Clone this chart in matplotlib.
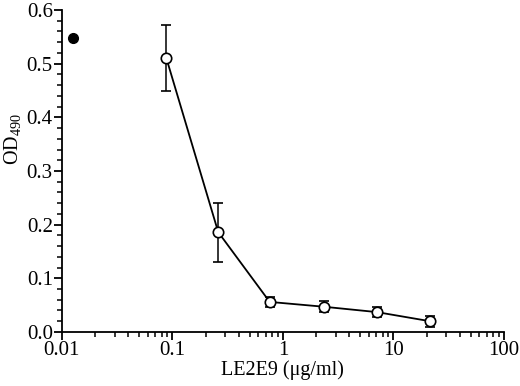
import matplotlib
matplotlib.use("Agg")
import matplotlib.pyplot as plt
from matplotlib.ticker import LogLocator, MultipleLocator, NullFormatter, FixedFormatter, FixedLocator

plt.rcParams['font.family'] = ['Liberation Serif', 'DejaVu Serif']
plt.rcParams['mathtext.fontset'] = 'custom'
plt.rcParams['mathtext.rm'] = 'Liberation Serif'

# open circles: LE2E9 titration
conc = [0.088, 0.26, 0.76, 2.35, 7.1, 21.5]
od = [0.511, 0.186, 0.056, 0.047, 0.037, 0.020]
od_err = [0.062, 0.055, 0.010, 0.010, 0.010, 0.010]

# filled circle: control
ctrl_x = [0.0126]
ctrl_y = [0.548]

xticks = [0.01, 0.1, 1, 10, 100]
xlabels = ['0.01', '0.1', '1', '10', '100']

fig = plt.figure(figsize=(5.2, 3.86), dpi=100)
ax = fig.add_axes([0.119, 0.140, 0.850, 0.834])

ax.errorbar(conc, od, yerr=od_err, color='black', lw=1.3, elinewidth=1.1,
            capsize=3.5, capthick=1.1, marker='o', ms=7.5, mfc='white',
            mec='black', mew=1.2, zorder=3)
ax.plot(ctrl_x, ctrl_y, 'o', color='black', ms=7, zorder=3)

ax.set_xscale('log')
ax.set_xlim(0.01, 100)
ax.set_ylim(0, 0.6)
ax.xaxis.set_major_locator(FixedLocator(xticks))
ax.xaxis.set_major_formatter(FixedFormatter(xlabels))
ax.xaxis.set_minor_locator(LogLocator(base=10, subs=range(2, 10)))
ax.xaxis.set_minor_formatter(NullFormatter())
ax.yaxis.set_major_locator(MultipleLocator(0.1))
ax.yaxis.set_minor_locator(MultipleLocator(0.02))
ax.yaxis.set_major_formatter(plt.FuncFormatter(lambda v, p: f'{v:.1f}'))

for s in ['top', 'right']:
    ax.spines[s].set_visible(False)
for s in ['left', 'bottom']:
    ax.spines[s].set_linewidth(1.3)

ax.tick_params(which='major', direction='out', length=5.5, width=1.3, labelsize=15, pad=1)
ax.tick_params(which='minor', direction='out', length=3.5, width=1.1)

ax.set_xlabel('LE2E9 (μg/ml)', fontsize=14.5, labelpad=0)
ax.set_ylabel('OD$_{490}$', fontsize=14.5)
ax.yaxis.set_label_coords(-0.085, 0.60)

fig.savefig('out.png', dpi=100)
